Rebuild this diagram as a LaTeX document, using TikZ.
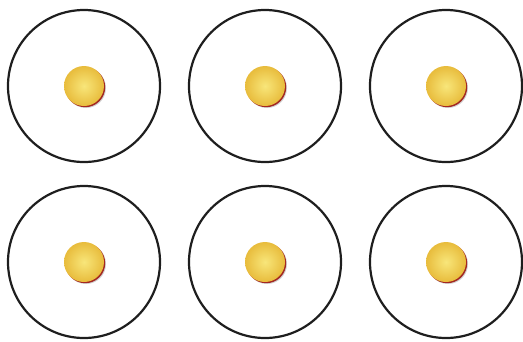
\documentclass[tikz,border=0pt]{standalone}
\usetikzlibrary{shadows}

\definecolor{ringline}{HTML}{1E1E1E}
\definecolor{dotlight}{HTML}{F8E67A}
\definecolor{dotdark}{HTML}{E8BC3C}
\definecolor{dotrim}{HTML}{C8302A}

\begin{document}
\begin{tikzpicture}[
  x=1pt, y=-1pt,
  ring/.style={circle, draw=ringline, line width=2.2pt, minimum size=152pt, inner sep=0pt},
  dot/.style={circle, minimum size=40pt, inner sep=0pt, inner color=dotlight, outer color=dotdark,
    drop shadow={shadow xshift=2pt, shadow yshift=-2pt, fill=black, opacity=0.18}},
  rim/.style={circle, fill=dotrim, minimum size=40pt, inner sep=0pt},
]
\useasboundingbox (0,0) rectangle (523,341);

% === six rings, each with a dot ===
\foreach \r/\y in {1/86, 2/262} {
  \foreach \c/\x in {1/84, 2/265, 3/446} {
    \node[ring] (ring-\r-\c) at (\x,\y) {};
    \node[rim] (rim-\r-\c) at (\x+1.2,\y+1.2) {};
    \node[dot] (dot-\r-\c) at (\x,\y) {};
  }
}

\end{tikzpicture}
\end{document}
